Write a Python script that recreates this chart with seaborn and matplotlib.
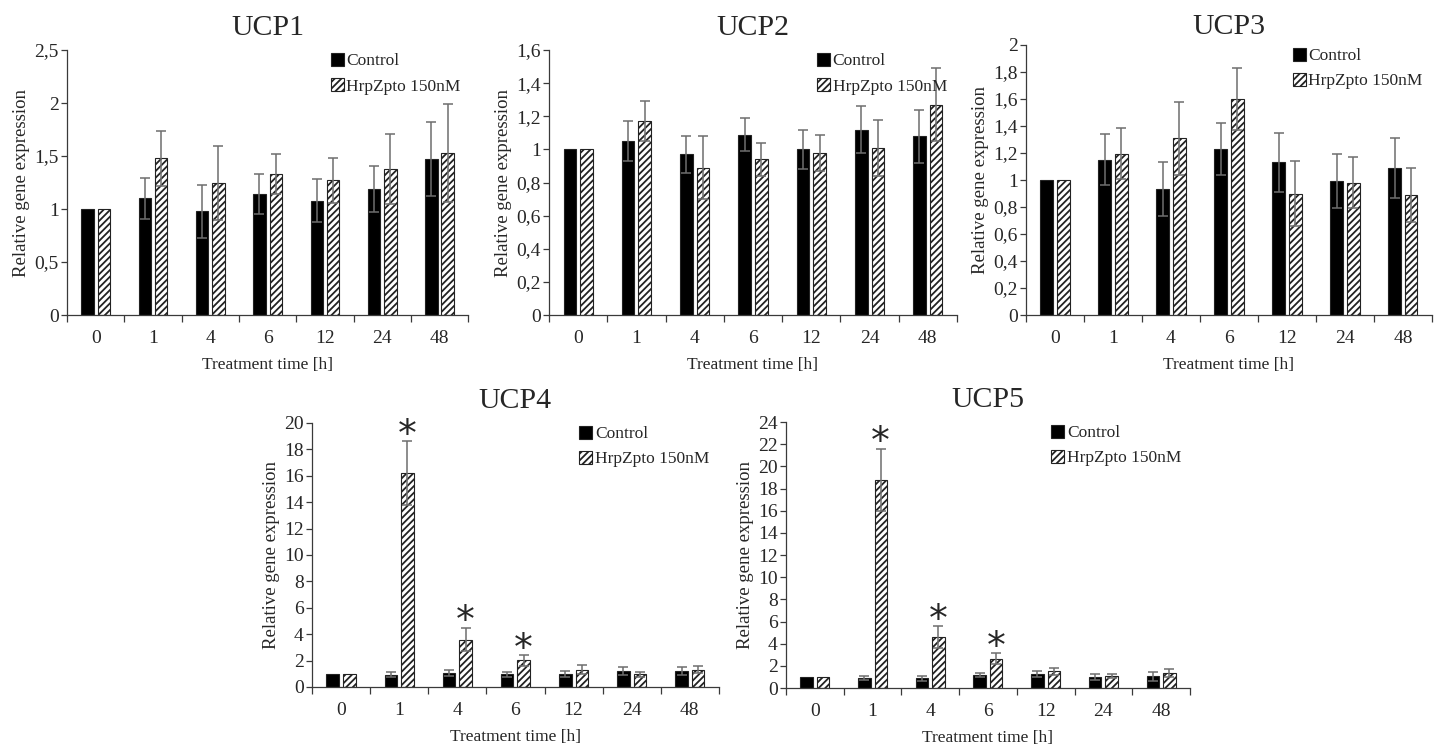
import numpy as np
import pandas as pd
import matplotlib
matplotlib.use('Agg')
import matplotlib.pyplot as plt
import seaborn as sns
from matplotlib.ticker import FuncFormatter, MultipleLocator, FixedLocator

# categories
times = ['0', '1', '4', '6', '12', '24', '48']
groups = ['Control', 'HrpZpto 150nM']

# values (mean and +/- error)
ucp1_ctrl = [1.00, 1.10, 0.98, 1.14, 1.08, 1.19, 1.47]
ucp1_ctrl_err = [0.0, 0.19, 0.25, 0.19, 0.20, 0.22, 0.35]
ucp1_hrpz = [1.00, 1.48, 1.245, 1.33, 1.27, 1.38, 1.53]
ucp1_hrpz_err = [0.0, 0.26, 0.35, 0.19, 0.21, 0.33, 0.46]

ucp2_ctrl = [1.00, 1.05, 0.97, 1.09, 1.00, 1.12, 1.08]
ucp2_ctrl_err = [0.0, 0.12, 0.11, 0.10, 0.12, 0.14, 0.16]
ucp2_hrpz = [1.00, 1.17, 0.89, 0.94, 0.98, 1.01, 1.27]
ucp2_hrpz_err = [0.0, 0.12, 0.19, 0.10, 0.11, 0.17, 0.22]

ucp3_ctrl = [1.00, 1.15, 0.93, 1.23, 1.13, 0.99, 1.09]
ucp3_ctrl_err = [0.0, 0.19, 0.20, 0.19, 0.22, 0.20, 0.22]
ucp3_hrpz = [1.00, 1.195, 1.31, 1.60, 0.90, 0.98, 0.89]
ucp3_hrpz_err = [0.0, 0.19, 0.27, 0.23, 0.24, 0.19, 0.20]

ucp4_ctrl = [1.00, 0.93, 1.06, 0.96, 1.01, 1.19, 1.19]
ucp4_ctrl_err = [0.0, 0.18, 0.20, 0.18, 0.23, 0.30, 0.30]
ucp4_hrpz = [1.00, 16.2, 3.59, 2.02, 1.31, 0.96, 1.31]
ucp4_hrpz_err = [0.0, 2.4, 0.88, 0.40, 0.36, 0.20, 0.26]

ucp5_ctrl = [1.00, 0.90, 0.87, 1.17, 1.23, 0.99, 1.05]
ucp5_ctrl_err = [0.0, 0.15, 0.24, 0.18, 0.27, 0.27, 0.39]
ucp5_hrpz = [1.00, 18.8, 4.60, 2.65, 1.50, 1.08, 1.35]
ucp5_hrpz_err = [0.0, 2.8, 0.99, 0.51, 0.33, 0.21, 0.36]

sns.set_style('white')
plt.rcParams['font.family'] = ['Liberation Serif', 'DejaVu Serif']
plt.rcParams['hatch.linewidth'] = 1.3
plt.rcParams['hatch.color'] = 'black'

panels = [
    # title, ctrl, ctrl_err, hrpz, hrpz_err, ymax, step, stars, axes rect, title pad
    ('UCP1', ucp1_ctrl, ucp1_ctrl_err, ucp1_hrpz, ucp1_hrpz_err, 2.5, 0.5, [], [0.0466, 0.5777, 0.2787, 0.3552], 11),
    ('UCP2', ucp2_ctrl, ucp2_ctrl_err, ucp2_hrpz, ucp2_hrpz_err, 1.6, 0.2, [], [0.3815, 0.5777, 0.2835, 0.3552], 11),
    ('UCP3', ucp3_ctrl, ucp3_ctrl_err, ucp3_hrpz, ucp3_hrpz_err, 2.0, 0.2, [], [0.7130, 0.5777, 0.2821, 0.3620], 8),
    ('UCP4', ucp4_ctrl, ucp4_ctrl_err, ucp4_hrpz, ucp4_hrpz_err, 20, 2, ['1', '4', '6'], [0.2168, 0.0791, 0.2828, 0.3539], 11),
    ('UCP5', ucp5_ctrl, ucp5_ctrl_err, ucp5_hrpz, ucp5_hrpz_err, 24, 2, ['1', '4', '6'], [0.5462, 0.0777, 0.2807, 0.3566], 11),
]

fig = plt.figure(figsize=(14.39, 7.46), dpi=100)
comma = FuncFormatter(lambda v, p: f'{v:g}'.replace('.', ','))

for title, ctrl, ctrl_err, hrpz, hrpz_err, ymax, step, stars, rect, pad in panels:
    ax = fig.add_axes(rect)
    df = pd.DataFrame({
        'time': times * 2,
        'group': [groups[0]] * len(times) + [groups[1]] * len(times),
        'value': ctrl + hrpz,
    })
    sns.barplot(data=df, x='time', y='value', hue='group', order=times, hue_order=groups,
                palette=['black', 'white'], width=0.57, gap=0.24, errorbar=None,
                edgecolor='#222222', linewidth=0.8, legend=False, ax=ax)
    for bar in ax.containers[1]:
        bar.set_hatch('/////')

    # symmetric error bars, placed on the drawn bars
    for cont, errs in zip(ax.containers, [ctrl_err, hrpz_err]):
        for bar, e in zip(cont, errs):
            if e <= 0:
                continue
            xc = bar.get_x() + bar.get_width() / 2
            h = bar.get_height()
            ax.errorbar(xc, h, yerr=e, fmt='none', ecolor='#6e6e6e',
                        elinewidth=1.1, capsize=3.5, capthick=1.1, zorder=5)

    # significance stars
    for t in stars:
        i = times.index(t)
        bar = ax.containers[1][i]
        xc = bar.get_x() + bar.get_width() / 2
        top = hrpz[i] + hrpz_err[i]
        ax.annotate('*', xy=(xc, top), xytext=(0, -9), textcoords='offset points',
                    ha='center', va='bottom', fontsize=27, family='DejaVu Sans')

    ax.set_xlim(-0.5, len(times) - 0.5)
    ax.set_ylim(0, ymax)
    ax.yaxis.set_major_locator(MultipleLocator(step))
    ax.yaxis.set_major_formatter(comma)
    ax.xaxis.set_minor_locator(FixedLocator(np.arange(-0.5, len(times), 1.0)))
    ax.tick_params(axis='x', which='major', length=0, labelsize=14, pad=11)
    ax.tick_params(axis='x', which='minor', length=5, width=0.9, color='#3a3a3a', direction='out', bottom=True)
    ax.tick_params(axis='y', length=4, width=0.9, color='#3a3a3a', direction='out', left=True, labelsize=14, pad=2)

    sns.despine(ax=ax)
    for s in ['left', 'bottom']:
        ax.spines[s].set_color('#3a3a3a')
        ax.spines[s].set_linewidth(0.9)

    ax.set_xlabel('Treatment time [h]', fontsize=12.5, labelpad=7)
    ax.set_ylabel('Relative gene expression', fontsize=13.5, labelpad=3)
    ax.set_title(title, fontsize=21.5, pad=pad)

    ax.legend(handles=[ax.containers[0], ax.containers[1]], labels=groups,
              loc='upper left', bbox_to_anchor=(0.64, 1.015), frameon=False,
              fontsize=12.5, handlelength=0.75, handleheight=0.75, handletextpad=0.15,
              labelspacing=0.5, borderaxespad=0)

fig.savefig('out.png', dpi=100)
